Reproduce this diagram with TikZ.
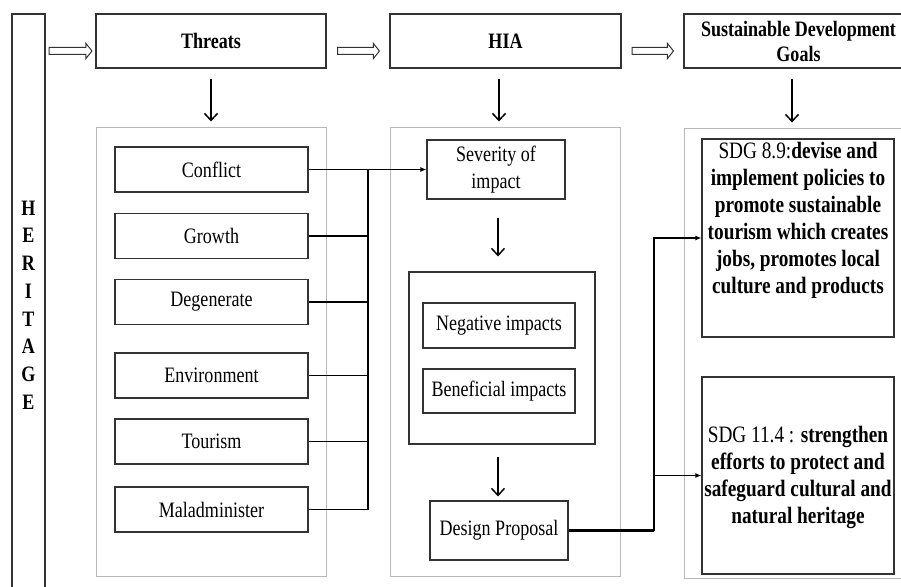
\documentclass[tikz,border=0pt]{standalone}
\usepackage{fontspec}
\setmainfont[FakeStretch=0.82]{Liberation Serif}
\usetikzlibrary{arrows.meta,calc}
\begin{document}
\begin{tikzpicture}[x=1pt,y=-1pt,
  box/.style={draw=black!80, line width=1.1pt, fill=white, inner sep=2pt, align=center, font=\fontsize{22}{27}\selectfont},
  header/.style={box, font=\fontsize{22}{25}\selectfont\bfseries},
  cont/.style={draw=black!28, line width=1pt, inner sep=0pt},
  hollow/.style={draw=black!80, line width=1pt, fill=white, line join=miter},
  down/.style={line width=1.5pt, -{Straight Barb[length=7pt,width=13pt,line width=1.5pt]}},
  bus/.style={line width=1.4pt},
  link/.style={line width=1.4pt, -{Latex[length=6pt,width=5pt]}},
  sdgtext/.style={align=center, inner sep=0pt, font=\fontsize{23.5}{27}\selectfont}
]
\useasboundingbox (0,0) rectangle (901,586);
\clip (0,0) rectangle (901,586);
\fill[white] (0,0) rectangle (901,586);

% heritage column
\node[box, minimum width=33, minimum height=582, font=\fontsize{22}{27.7}\selectfont\bfseries] (heritage) at (28.5,305) {H\\E\\R\\I\\T\\A\\G\\E};

% headers
\node[header, minimum width=230, minimum height=54] (threats) at (211,41) {Threats};
\node[header, minimum width=231, minimum height=54] (hia) at (505.5,41) {HIA};
\node[header, minimum width=229, minimum height=54] (sdg) at (798.5,41) {Sustainable Development\\Goals};

% hollow arrows (outline arrows between header boxes)
% #1 from node, #2 to node, #3 gap after #1, #4 gap before #2
\newcommand{\hollowarrow}[4]{%
  \draw[hollow] let \p1=(#1.east), \p2=(#2.west) in
    (\x1+#3pt,-47.5pt) -- (\x2-#4pt-6pt,-47.5pt) -- (\x2-#4pt-6pt,-43.5pt)
    -- (\x2-#4pt,-51pt) -- (\x2-#4pt-6pt,-58.5pt) -- (\x2-#4pt-6pt,-54.5pt)
    -- (\x1+#3pt,-54.5pt) -- cycle;}
\hollowarrow{heritage}{threats}{3.5}{3.5}
\hollowarrow{threats}{hia}{11}{10}
\hollowarrow{hia}{sdg}{10.5}{10}

% containers
\node[cont, minimum width=230, minimum height=449] (tcont) at (211,351.5) {};
\node[cont, minimum width=230, minimum height=449] (hcont) at (505,351.5) {};
\node[cont, minimum width=229, minimum height=450] (scont) at (798.5,353) {};

% down arrows from headers
\draw[down] ([yshift=-10pt]threats.south) -- ([yshift=5pt]tcont.north);
\draw[down] ([yshift=-10pt,xshift=-6.5pt]hia.south) -- ([yshift=5pt,xshift=-6pt]hcont.north);
\draw[down] ([yshift=-10pt,xshift=-6.5pt]sdg.south) -- ([yshift=5pt,xshift=-6.5pt]scont.north);

% threats
\node[box, minimum width=193, minimum height=45] (conflict) at (211.5,169.5) {Conflict};
\node[box, minimum width=193, minimum height=45] (growth) at (211.5,236) {Growth};
\node[box, minimum width=193, minimum height=45] (degen) at (211.5,302) {Degenerate};
\node[box, minimum width=193, minimum height=45] (env) at (211.5,375.5) {Environment};
\node[box, minimum width=193, minimum height=45] (tourism) at (211.5,441.5) {Tourism};
\node[box, minimum width=193, minimum height=45] (malad) at (211.5,509.5) {Maladminister};

% HIA column
\node[box, minimum width=138, minimum height=59] (severity) at (496,169.5) {Severity of\\impact};
\node[box, minimum width=186, minimum height=172] (impacts) at (502,358) {};
\node[box, minimum width=152, minimum height=45] (neg) at (499,325.5) {Negative impacts};
\node[box, minimum width=152, minimum height=44] (ben) at (499,391) {Beneficial impacts};
\node[box, minimum width=138, minimum height=59] (design) at (499,530.5) {Design Proposal};

\draw[down] ([yshift=-18pt,xshift=2pt]severity.south) -- ([yshift=15pt,xshift=-4pt]impacts.north);
\draw[down] ([yshift=-12pt,xshift=-4pt]impacts.south) -- ([yshift=4pt,xshift=-1pt]design.north);

% SDG boxes
\node[box, minimum width=192, minimum height=198] (sdg1) at (798,238) {};
\node[sdgtext] (sdg1t) at (798,220) {SDG 8.9:\textbf{devise and}\\\textbf{implement policies to}\\\textbf{promote sustainable}\\\textbf{tourism which creates}\\\textbf{jobs, promotes local}\\\textbf{culture and products}};
\node[box, minimum width=192, minimum height=197] (sdg2) at (798,475.5) {};
\node[sdgtext] (sdg2t) at (798,477) {SDG 11.4 : \textbf{strengthen}\\\textbf{efforts to protect and}\\\textbf{safeguard cultural and}\\\textbf{natural heritage}};

% bus from threats to severity
\coordinate (bustop) at (368,169.5);
\coordinate (busbot) at (368,509.5);
\draw[link] (conflict.east) -- (severity.west);
\draw[bus] (bustop) -- (busbot);
\draw[bus] (growth.east) -- (growth.east -| bustop);
\draw[bus] (degen.east) -- (degen.east -| bustop);
\draw[bus] (env.east) -- (env.east -| bustop);
\draw[bus] (tourism.east) -- (tourism.east -| bustop);
\draw[bus] (malad.east) -- (malad.east -| bustop);

% design proposal to SDGs
\coordinate (dj) at (654,530.5);
\draw[line width=2.4pt] (design.east) -- (dj);
\draw[link] (dj) -- (dj |- sdg1.west) -- (sdg1.west);
\draw[link] (dj |- sdg2.west) -- (sdg2.west);
\end{tikzpicture}
\end{document}
